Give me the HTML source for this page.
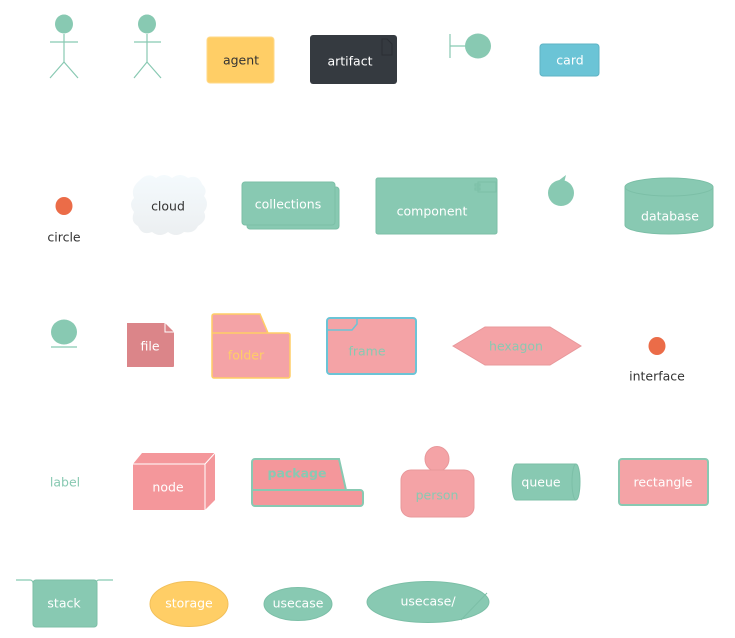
<!DOCTYPE html>
<html><head><meta charset="utf-8"><style>
html,body{margin:0;padding:0;background:#fff;width:735px;height:638px;overflow:hidden}
svg text{font-family:"DejaVu Sans","Liberation Sans",sans-serif;font-size:12.5px;text-anchor:middle;dominant-baseline:middle}
</style></head><body>
<svg width="735" height="638" xmlns="http://www.w3.org/2000/svg">
<defs><linearGradient id="cg" x1="0" y1="0" x2="0" y2="1"><stop offset="0" stop-color="#F4FAFD"/><stop offset="1" stop-color="#ECEFF1"/></linearGradient></defs>
<g stroke="#88C9B2" stroke-width="1.2" fill="none">
<line x1="64" y1="34" x2="64" y2="62"/><line x1="50" y1="42" x2="78" y2="42"/><polyline points="50,78 64,62 78,78"/>
<line x1="147" y1="34" x2="147" y2="62"/><line x1="134" y1="42" x2="161" y2="42"/><polyline points="134,78 147,62 161,78"/>
</g>
<ellipse cx="64" cy="24" rx="9" ry="9.5" fill="#88C9B2"/>
<ellipse cx="147" cy="24" rx="9" ry="9.5" fill="#88C9B2"/>
<rect x="207" y="37" width="67" height="46" rx="3" fill="#FFCE66" stroke="#FFD98a"/>
<text x="241" y="61" fill="#333">agent</text>
<rect x="310" y="35" width="87" height="49" rx="3" fill="#353A40"/>
<path d="M382,39 h5 l5,5 v11 h-10 z" fill="none" stroke="#2a2e33"/>
<text x="350" y="62" fill="#fff">artifact</text>
<g stroke="#88C9B2" stroke-width="1.2"><line x1="450" y1="34" x2="450" y2="58"/><line x1="450" y1="46" x2="467" y2="46"/></g>
<ellipse cx="478" cy="46" rx="13" ry="12.5" fill="#88C9B2"/>
<rect x="540" y="44" width="59" height="32" rx="3" fill="#6BC4D6" stroke="#5fb3c4"/>
<text x="570" y="61" fill="#fff">card</text>
<ellipse cx="64" cy="206" rx="8.5" ry="9" fill="#EB6C48"/>
<text x="64" y="238" fill="#333">circle</text>
<path d="M140,180 q8,-8 16,-2 q8,-6 16,0 q8,-6 16,0 q10,-4 14,6 q6,6 2,12 q6,8 0,16 q4,8 -6,14 q-4,8 -14,6 q-8,6 -16,0 q-8,6 -16,0 q-10,4 -14,-6 q-8,-4 -4,-14 q-6,-8 0,-14 q-4,-10 6,-18 z" fill="url(#cg)"/>
<text x="168" y="207" fill="#333">cloud</text>
<rect x="247" y="187" width="92" height="42" rx="3" fill="#88C9B2" stroke="#7cbfa7"/>
<rect x="242" y="182" width="93" height="43" rx="3" fill="#88C9B2" stroke="#7cbfa7"/>
<text x="288" y="205" fill="#fff">collections</text>
<rect x="376" y="178" width="121" height="56" rx="2" fill="#88C9B2" stroke="#7cbfa7"/>
<rect x="478" y="182" width="18" height="10" fill="none" stroke="#7cbfa7"/>
<rect x="475" y="184" width="5" height="2" fill="none" stroke="#7cbfa7"/>
<rect x="475" y="188" width="5" height="2" fill="none" stroke="#7cbfa7"/>
<text x="432" y="212" fill="#fff">component</text>
<ellipse cx="561" cy="193" rx="13" ry="13" fill="#88C9B2"/>
<path d="M558,181 l8,-6 l-2,8 z" fill="#88C9B2"/>
<path d="M625,187 v38 a44,9 0 0 0 88,0 v-38 z" fill="#88C9B2" stroke="#7cbfa7"/>
<ellipse cx="669" cy="187" rx="44" ry="9" fill="#88C9B2" stroke="#7cbfa7"/>
<text x="670" y="217" fill="#fff">database</text>
<ellipse cx="64" cy="332" rx="13" ry="12.5" fill="#88C9B2"/>
<line x1="51" y1="347" x2="77" y2="347" stroke="#88C9B2" stroke-width="1.2"/>
<path d="M127,323 h38 l9,9 v34 a1,1 0 0 1 -1,1 h-46 z" fill="#DB8589"/>
<path d="M165,323 v9 h9" fill="none" stroke="#fff"/>
<text x="150" y="347" fill="#fff">file</text>
<path d="M212,316 a2,2 0 0 1 2,-2 h46 l8,19 h20 a2,2 0 0 1 2,2 v41 a2,2 0 0 1 -2,2 h-74 a2,2 0 0 1 -2,-2 z" fill="#F4A3A6" stroke="#FFCE66" stroke-width="1.5"/>
<line x1="212" y1="333" x2="268" y2="333" stroke="#FFCE66" stroke-width="1.5"/>
<text x="246" y="356" fill="#FFCE66">folder</text>
<rect x="327" y="318" width="89" height="56" rx="3" fill="#F4A3A6" stroke="#6BC4D6" stroke-width="2"/>
<path d="M327,330 h25 l5,-6 v-6" fill="none" stroke="#6BC4D6" stroke-width="1.5"/>
<text x="367" y="352" fill="#88C9B2">frame</text>
<polygon points="453,346 485,327 550,327 581,346 550,365 485,365" fill="#F4A3A6" stroke="#e8989b"/>
<text x="516" y="347" fill="#88C9B2">hexagon</text>
<ellipse cx="657" cy="346" rx="8.5" ry="9" fill="#EB6C48"/>
<text x="657" y="377" fill="#333">interface</text>
<text x="65" y="483" fill="#88C9B2">label</text>
<polygon points="133,464 142,453 215,453 215,500 205,510 133,510" fill="#F4979B"/>
<path d="M133,464 h72 v46 M205,464 l10,-11" fill="none" stroke="#fff"/>
<text x="168" y="488" fill="#fff">node</text>
<path d="M252,462 a3,3 0 0 1 3,-3 h84 l7,31 h14 a3,3 0 0 1 3,3 v10 a3,3 0 0 1 -3,3 h-105 a3,3 0 0 1 -3,-3 z" fill="#F4979B" stroke="#88C9B2" stroke-width="2"/>
<line x1="252" y1="490" x2="346" y2="490" stroke="#88C9B2" stroke-width="2"/>
<text x="297" y="474" fill="#88C9B2" font-weight="bold">package</text>
<ellipse cx="437" cy="459" rx="12" ry="12.5" fill="#F4A3A6" stroke="#e8989b"/>
<rect x="401" y="470" width="73" height="47" rx="10" fill="#F4A3A6" stroke="#e8989b"/>
<text x="437" y="496" fill="#88C9B2">person</text>
<path d="M516,464 h60 a4,18 0 0 1 0,36 h-60 a4,18 0 0 1 0,-36 z" fill="#88C9B2" stroke="#7cbfa7"/>
<path d="M576,464 a4,18 0 0 0 0,36" fill="none" stroke="#7cbfa7"/>
<text x="541" y="483" fill="#fff">queue</text>
<rect x="619" y="459" width="89" height="46" rx="3" fill="#F4A3A6" stroke="#88C9B2" stroke-width="2"/>
<text x="663" y="483" fill="#fff">rectangle</text>
<path d="M16,580 h14 a3,3 0 0 1 3,3 M113,580 h-14 a3,3 0 0 0 -3,3" fill="none" stroke="#88C9B2" stroke-width="1.2"/>
<rect x="33" y="580" width="64" height="47" rx="3" fill="#88C9B2" stroke="#7cbfa7"/>
<text x="64" y="604" fill="#fff">stack</text>
<ellipse cx="189" cy="604" rx="39" ry="22.5" fill="#FFCE66" stroke="#f2c05a"/>
<text x="189" y="604" fill="#fff">storage</text>
<ellipse cx="298" cy="604" rx="34" ry="16.5" fill="#88C9B2" stroke="#7cbfa7"/>
<text x="298" y="604" fill="#fff">usecase</text>
<ellipse cx="428" cy="602" rx="61" ry="20.5" fill="#88C9B2" stroke="#7cbfa7"/>
<line x1="461" y1="620" x2="487" y2="593" stroke="#7cbfa7"/>
<text x="428" y="602" fill="#fff">usecase/</text>
</svg>
</body></html>
